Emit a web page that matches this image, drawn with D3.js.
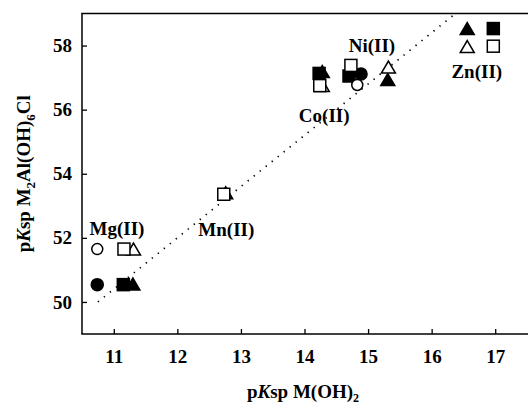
<!DOCTYPE html>
<html>
<head>
<meta charset="utf-8">
<script src="https://cdn.jsdelivr.net/npm/d3@7"></script>
<style>
  html, body { margin: 0; padding: 0; background: #fff; }
  svg { display: block; }
  text { font-family: "Liberation Serif", "Times New Roman", serif; font-weight: bold; fill: #000; }
</style>
</head>
<body>
<svg id="chart" width="528" height="405"></svg>
<script>
// Axis ticks
const xTicks = [11, 12, 13, 14, 15, 16, 17];
const yTicks = [50, 52, 54, 56, 58];

// Solubility products: pKsp of M(OH)2 (x) vs pKsp of M2Al(OH)6Cl (y)
const filledTriangleX = [11.30, 12.76, 14.28, 15.31, 16.56];
const filledTriangleY = [50.56, 53.41, 57.19, 56.94, 58.53];
const filledCircleX   = [10.74, 14.89];
const filledCircleY   = [50.54, 57.11];
const filledSquareX   = [11.15, 14.23, 14.70, 16.97];
const filledSquareY   = [50.54, 57.13, 57.05, 58.53];
const openTriangleX   = [11.31, 14.28, 15.32, 16.56];
const openTriangleY   = [51.65, 56.75, 57.33, 57.97];
const openCircleX     = [10.74, 14.83];
const openCircleY     = [51.65, 56.77];
const openSquareX     = [11.16, 12.73, 14.24, 14.73, 16.97];
const openSquareY     = [51.65, 53.36, 56.75, 57.38, 57.98];

// Trend line end points
const trendX = [10.75, 16.375];
const trendY = [50, 59];

// Metal labels (anchor = text centre, baseline)
const metalNames = ["Mg(II)", "Mn(II)", "Co(II)", "Ni(II)", "Zn(II)"];
const metalLabelX = [11.05, 12.77, 14.31, 15.06, 16.71];
const metalLabelY = [52.09, 52.06, 55.61, 57.81, 57.0];

const svg = d3.select("#chart");
const x = d3.scaleLinear().domain([10.5, 17.5]).range([82, 527]);
const y = d3.scaleLinear().domain([49, 59]).range([334, 13.5]);

// Frame
const frame = svg.append("g").attr("stroke", "#000").attr("stroke-width", 1.5);
frame.append("line").attr("x1", x(10.5)).attr("x2", x(10.5)).attr("y1", y(59)).attr("y2", y(49));
frame.append("line").attr("x1", x(10.5) - 0.75).attr("x2", 528).attr("y1", y(49)).attr("y2", y(49));
frame.append("line").attr("x1", x(10.5) - 0.75).attr("x2", 528).attr("y1", y(59)).attr("y2", y(59));

// Axes with inward ticks
const xAxis = svg.append("g")
  .attr("transform", `translate(0,${y(49)})`)
  .call(d3.axisBottom(x).tickValues(xTicks).tickFormat(d3.format("d"))
    .tickSizeInner(-5).tickSizeOuter(0).tickPadding(15.5));
const yAxis = svg.append("g")
  .attr("transform", `translate(${x(10.5)},0)`)
  .call(d3.axisLeft(y).tickValues(yTicks).tickFormat(d3.format("d"))
    .tickSizeInner(-5).tickSizeOuter(0).tickPadding(10));
[xAxis, yAxis].forEach(g => {
  g.select(".domain").remove();
  g.selectAll(".tick line").attr("stroke", "#000").attr("stroke-width", 1.3);
  g.selectAll(".tick text")
    .attr("font-family", "Liberation Serif, serif")
    .attr("font-weight", "bold")
    .attr("font-size", 19)
    .attr("fill", "#000");
});

// Dotted trend line
svg.append("line")
  .attr("x1", x(trendX[0])).attr("y1", y(trendY[0]))
  .attr("x2", x(trendX[1])).attr("y2", y(trendY[1]))
  .attr("stroke", "#000").attr("stroke-width", 1.7)
  .attr("stroke-dasharray", "1.3,6.4");

// Marker shapes
const sq = 12, triW = 14, triH = 12;
function zip(xs, ys) { return xs.map((v, i) => [v, ys[i]]); }

function triangles(xs, ys, filled) {
  svg.append("g").selectAll("path").data(zip(xs, ys)).join("path")
    .attr("d", d => {
      const cx = x(d[0]), cy = y(d[1]);
      return `M${cx},${cy - triH / 2}L${cx + triW / 2},${cy + triH / 2}L${cx - triW / 2},${cy + triH / 2}Z`;
    })
    .attr("fill", filled ? "#000" : "#fff")
    .attr("stroke", "#000").attr("stroke-width", 1.5).attr("stroke-linejoin", "miter");
}
function circles(xs, ys, filled) {
  svg.append("g").selectAll("circle").data(zip(xs, ys)).join("circle")
    .attr("cx", d => x(d[0])).attr("cy", d => y(d[1]))
    .attr("r", filled ? 6 : 5.5)
    .attr("fill", filled ? "#000" : "#fff")
    .attr("stroke", "#000").attr("stroke-width", 1.5);
}
function squares(xs, ys, filled) {
  svg.append("g").selectAll("rect").data(zip(xs, ys)).join("rect")
    .attr("x", d => x(d[0]) - sq / 2).attr("y", d => y(d[1]) - sq / 2)
    .attr("width", sq).attr("height", sq)
    .attr("fill", filled ? "#000" : "#fff")
    .attr("stroke", "#000").attr("stroke-width", 1.5);
}

triangles(filledTriangleX, filledTriangleY, true);
circles(filledCircleX, filledCircleY, true);
squares(filledSquareX, filledSquareY, true);
triangles(openTriangleX, openTriangleY, false);
circles(openCircleX, openCircleY, false);
squares(openSquareX, openSquareY, false);

// Metal labels
svg.append("g").selectAll("text").data(metalNames).join("text")
  .attr("x", (d, i) => x(metalLabelX[i]))
  .attr("y", (d, i) => y(metalLabelY[i]))
  .attr("text-anchor", "middle")
  .attr("font-size", 19)
  .text(d => d);

// X axis title: pKsp M(OH)2
const xt = svg.append("text")
  .attr("x", 303).attr("y", 398)
  .attr("text-anchor", "middle")
  .attr("font-size", 19);
xt.append("tspan").text("p");
xt.append("tspan").attr("font-style", "italic").text("K");
xt.append("tspan").text("sp M(OH)");
xt.append("tspan").attr("font-size", 12).attr("dy", 4).text("2");

// Y axis title: pKsp M2Al(OH)6Cl
const yt = svg.append("text")
  .attr("transform", `translate(30,${(y(49) + y(59)) / 2}) rotate(-90)`)
  .attr("text-anchor", "middle")
  .attr("font-size", 19);
yt.append("tspan").text("p");
yt.append("tspan").attr("font-style", "italic").text("K");
yt.append("tspan").text("sp M");
yt.append("tspan").attr("font-size", 13).attr("dy", 5).text("2");
yt.append("tspan").attr("dy", -5).text("Al(OH)");
yt.append("tspan").attr("font-size", 13).attr("dy", 5).text("6");
yt.append("tspan").attr("dy", -5).text("Cl");
</script>
</body>
</html>
